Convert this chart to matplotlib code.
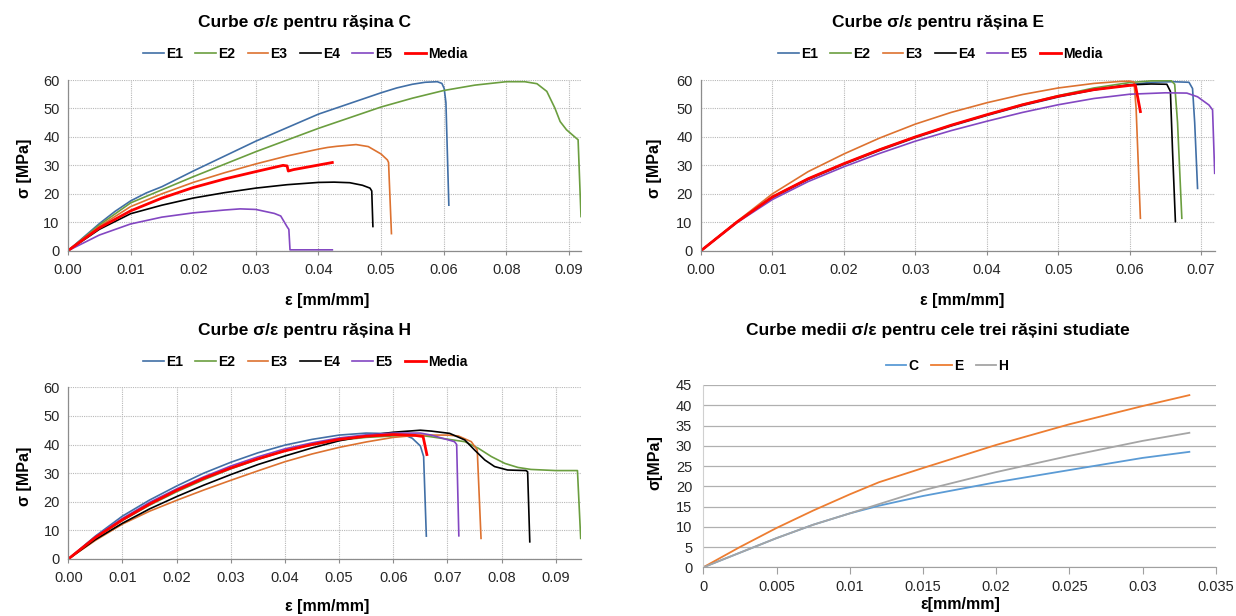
import matplotlib
matplotlib.use("Agg")
import matplotlib.pyplot as plt

plt.rcParams["font.family"] = ["Liberation Sans", "DejaVu Sans"]

W, H = 1236, 616

# ---------------- data: rasina C (strain, stress) ----------------
c_e1_x = [0, 0.0054, 0.0081, 0.0108, 0.0135, 0.0162, 0.0216, 0.0324, 0.0432, 0.054, 0.0567, 0.0594, 0.0616,
          0.0637, 0.0645, 0.0649, 0.0652, 0.0657]
c_e1_y = [0, 9.5, 13.8, 17.5, 20.3, 22.5, 28, 38.5, 48, 55.5, 57.2, 58.5, 59.2, 59.4, 58.8, 57, 52, 16]
c_e2_x = [0, 0.0054, 0.0108, 0.0216, 0.0324, 0.0432, 0.054, 0.0594, 0.0648, 0.0702, 0.0756, 0.0788, 0.0809, 0.0826,
          0.084, 0.0849, 0.086, 0.0877, 0.088, 0.0885]
c_e2_y = [0, 9, 16.8, 26, 34.8, 43, 50.5, 53.6, 56.3, 58.2, 59.4, 59.4, 58.7, 56, 50.1, 45.4, 42.5, 39.5, 39, 12]
c_e3_x = [0, 0.0054, 0.0108, 0.0162, 0.0216, 0.027, 0.0324, 0.0378, 0.0432, 0.0448, 0.0464, 0.0497, 0.0518,
          0.054, 0.0551, 0.0553, 0.0558]
c_e3_y = [0, 8.5, 15.5, 20, 24, 27.4, 30.5, 33.3, 35.7, 36.3, 36.7, 37.3, 36.6, 34, 31.9, 31, 6]
c_e4_x = [0, 0.0054, 0.0108, 0.0162, 0.0216, 0.027, 0.0324, 0.0378, 0.0432, 0.0459, 0.0486, 0.0508, 0.0521,
          0.0524, 0.0526]
c_e4_y = [0, 7.5, 13, 16, 18.5, 20.4, 22, 23.2, 24, 24.1, 23.9, 23, 22, 21, 8.5]
c_e5_x = [0, 0.0054, 0.0108, 0.0162, 0.0216, 0.027, 0.0297, 0.0324, 0.0356, 0.0367, 0.0378, 0.0381, 0.0383, 0.0456]
c_e5_y = [0, 5.5, 9.4, 11.8, 13.3, 14.3, 14.7, 14.5, 13.1, 12.2, 8.4, 7.5, 0.3, 0.3]
c_med_x = [0, 0.0054, 0.0108, 0.0162, 0.0216, 0.027, 0.0324, 0.0356, 0.0371, 0.0378, 0.038, 0.0389, 0.0456]
c_med_y = [0, 8, 14, 18.5, 22.2, 25.2, 27.8, 29.3, 30, 29.8, 28, 28.5, 31]

# ---------------- data: rasina E ----------------
e_e1_x = [0, .005, .01, .015, .02, .025, .03, .035, .04, .045, .05, .055, .06, .063, .066, .0683, .0688, .0691, .0695]
e_e1_y = [0, 10, 18.6, 25, 30.3, 35.2, 39.7, 43.8, 47.5, 51, 54, 56.5, 58.3, 59.2, 59.4, 59.2, 57, 45, 21.9]
e_e2_x = [0, .005, .01, .015, .02, .025, .03, .035, .04, .045, .05, .055, .06, .063, .0658, .0663, .0667, .0673]
e_e2_y = [0, 10, 19, 25.3, 30.6, 35.6, 40, 44.1, 47.8, 51.4, 54.5, 57.2, 59.1, 59.7, 59.8, 58.5, 45, 11.4]
e_e3_x = [0, .005, .01, .015, .02, .025, .03, .035, .04, .045, .05, .055, .0587, .06, .0606, .0609, .0615]
e_e3_y = [0, 10.2, 20, 27.8, 34, 39.6, 44.5, 48.6, 52, 54.9, 57.2, 58.8, 59.5, 59.6, 59.3, 50, 11.4]
e_e4_x = [0, .005, .01, .015, .02, .025, .03, .035, .04, .045, .05, .055, .06, .063, .0652, .0657, .066, .0664]
e_e4_y = [0, 10, 18.8, 25.2, 30.5, 35.4, 39.9, 44, 47.7, 51.2, 54.2, 56.6, 58.3, 58.6, 58.5, 56, 35, 10.2]
e_e5_x = [0, .005, .01, .015, .02, .025, .03, .035, .04, .045, .05, .055, .06, .065, .068, .0695, .0711, .0716, .0719]
e_e5_y = [0, 9.8, 18, 24.3, 29.5, 34.2, 38.5, 42.2, 45.5, 48.6, 51.3, 53.5, 55, 55.5, 55.4, 54.1, 51.2, 49.5, 27.2]
e_med_x = [0, .005, .01, .015, .02, .025, .03, .035, .04, .045, .05, .055, .06, .0608, .0615]
e_med_y = [0, 10, 18.9, 25.3, 30.6, 35.5, 40, 44.1, 47.8, 51.3, 54.3, 56.6, 58.1, 58.2, 48.9]

# ---------------- data: rasina H ----------------
h_e1_x = [0, .005, .01, .015, .02, .025, .03, .035, .04, .045, .05, .055, .06, .062, .0635, .065, .0656, .0661]
h_e1_y = [0, 8, 15, 20.6, 25.5, 30, 33.8, 37.1, 39.8, 41.8, 43.3, 44, 43.8, 43.4, 42.2, 39.5, 35.8, 8]
h_e2_x = [0, .005, .01, .015, .02, .025, .03, .035, .04, .045, .05, .055, .06, .065, .067, .0732, .0757, .0781,
          .0806, .083, .0854, .09, .094, .0946]
h_e2_y = [0, 7.3, 13.5, 18.8, 23.5, 27.7, 31.5, 34.8, 37.8, 39.9, 41.5, 42.5, 43, 43.2, 42.7, 41, 38.7, 35.8,
          33.4, 32, 31.3, 30.9, 30.9, 7.2]
h_e3_x = [0, .005, .01, .015, .02, .025, .03, .035, .04, .045, .05, .055, .06, .065, .07, .072, .0744, .0755, .0762]
h_e3_y = [0, 6.5, 12.2, 16.7, 20.5, 24.1, 27.5, 30.8, 34, 36.7, 39, 40.9, 42.5, 43.3, 43.3, 43, 41, 38.1, 7.2]
h_e4_x = [0, .005, .01, .015, .02, .025, .03, .035, .04, .045, .05, .055, .06, .065, .067, .0704, .0732, .075,
          .0769, .0787, .0811, .0845, .0848, .0852]
h_e4_y = [0, 6.8, 12.5, 17.5, 21.8, 25.8, 29.5, 33, 36, 38.8, 41.3, 43.1, 44.3, 45, 44.7, 43.9, 41.6, 38.1,
          34.6, 32.3, 31.1, 30.9, 30.5, 6]
h_e5_x = [0, .005, .01, .015, .02, .025, .03, .035, .04, .045, .05, .055, .06, .065, .067, .0713, .0717, .0721]
h_e5_y = [0, 7.8, 14.2, 19.8, 24.5, 28.7, 32.5, 35.7, 38.5, 40.6, 42.3, 43.4, 44, 44, 43.3, 41, 40, 8.1]
h_med_x = [0, .005, .01, .015, .02, .025, .03, .035, .04, .045, .05, .055, .06, .064, .0655, .0662]
h_med_y = [0, 7.5, 13.7, 19.2, 24, 28.2, 31.8, 35, 37.8, 40, 41.8, 42.9, 43.5, 43.2, 42.8, 36.5]

# ---------------- data: mean curves ----------------
avg_x = [0, 0.0025, 0.005, 0.0075, 0.01, 0.012, 0.015, 0.02, 0.025, 0.03, 0.0332]
avg_c = [0, 3.6, 7.2, 10.5, 13.3, 15.2, 17.6, 21, 24, 27, 28.5]
avg_e = [0, 5, 9.7, 14, 18, 21, 24.5, 30.2, 35.3, 39.8, 42.5]
avg_h = [0, 3.6, 7.2, 10.5, 13.3, 15.6, 19, 23.5, 27.5, 31.2, 33.2]

labels = ["E1", "E2", "E3", "E4", "E5", "Media"]
colors = ["#416fa6", "#6b9e3f", "#dd7230", "#000000", "#8347c2", "#ff0000"]
avg_labels = ["C", "E", "H"]
avg_colors = ["#5b9bd5", "#ed7d31", "#a5a5a5"]

# Excel major unit used on the C chart (labels rounded to 2 decimals)
c_unit = 0.0108


def rect(l, t, r, b):
    return [l / W, 1 - b / H, (r - l) / W, (b - t) / H]


def fx(px):
    return px / W


def fy(py):
    return 1 - py / H


fig = plt.figure(figsize=(W / 100, H / 100), dpi=100)


def sample_panel(ax, series, xticks, xmax, title, tpos, lpos, xlpos, ylpos):
    for (x, y), lab, col in zip(series, labels, colors):
        lw = 2.0 if lab == "Media" else 1.2
        ax.plot(x, y, color=col, lw=lw, label=lab, solid_joinstyle="round")
    ax.set_xlim(0, xmax)
    ax.set_ylim(0, 60)
    ax.set_yticks(range(0, 61, 10))
    ax.set_xticks(xticks)
    ax.set_xticklabels(["%.2f" % v for v in xticks])
    ax.grid(True, color="#b8b8b8", lw=0.8, linestyle=(0, (1, 1)))
    for s in ["top", "right"]:
        ax.spines[s].set_visible(False)
    for s in ["left", "bottom"]:
        ax.spines[s].set_color("#8c8c8c")
        ax.spines[s].set_linewidth(0.9)
    ax.tick_params(axis="x", length=3, color="#8c8c8c", labelsize=10.5, pad=6, labelcolor="#262626")
    ax.tick_params(axis="y", length=0, labelsize=10.5, pad=6, labelcolor="#262626")
    fig.text(fx(tpos[0]), fy(tpos[1]), title, ha="center", va="center", fontsize=12.5, fontweight="bold")
    fig.legend(handles=ax.get_lines(), loc="center", bbox_to_anchor=(fx(lpos[0]), fy(lpos[1])),
               ncol=6, frameon=False, handlelength=1.5, handletextpad=0.15, columnspacing=0.9,
               prop={"weight": "bold", "size": 10})
    fig.text(fx(xlpos[0]), fy(xlpos[1]), "ε [mm/mm]", ha="center", va="center", fontsize=11.5, fontweight="bold")
    fig.text(fx(ylpos[0]), fy(ylpos[1]), "σ [MPa]", ha="center", va="center", rotation=90,
             fontsize=11.5, fontweight="bold")


ax1 = fig.add_axes(rect(68, 80, 581, 250.7))
sample_panel(ax1,
             [(c_e1_x, c_e1_y), (c_e2_x, c_e2_y), (c_e3_x, c_e3_y), (c_e4_x, c_e4_y), (c_e5_x, c_e5_y),
              (c_med_x, c_med_y)],
             [c_unit * k for k in range(9)], 0.0885,
             "Curbe σ/ε pentru rășina C", (304, 23), (305, 54), (327, 300), (25, 168))

ax2 = fig.add_axes(rect(701, 80, 1214.7, 250.7))
sample_panel(ax2,
             [(e_e1_x, e_e1_y), (e_e2_x, e_e2_y), (e_e3_x, e_e3_y), (e_e4_x, e_e4_y), (e_e5_x, e_e5_y),
              (e_med_x, e_med_y)],
             [0.01 * k for k in range(8)], 0.0719,
             "Curbe σ/ε pentru rășina E", (938, 23), (940, 54), (962, 300), (655, 168))

ax3 = fig.add_axes(rect(68.3, 387.3, 580.7, 559))
sample_panel(ax3,
             [(h_e1_x, h_e1_y), (h_e2_x, h_e2_y), (h_e3_x, h_e3_y), (h_e4_x, h_e4_y), (h_e5_x, h_e5_y),
              (h_med_x, h_med_y)],
             [0.01 * k for k in range(10)], 0.0946,
             "Curbe σ/ε pentru rășina H", (304, 331), (305, 362), (327, 607), (25, 476))

# ---------------- mean curves panel ----------------
ax4 = fig.add_axes(rect(703.3, 385, 1215.7, 567.3))
for y, lab, col in zip([avg_c, avg_e, avg_h], avg_labels, avg_colors):
    ax4.plot(avg_x, y, color=col, lw=1.3, label=lab)
ax4.set_xlim(0, 0.035)
ax4.set_ylim(0, 45)
ax4.set_yticks(range(0, 46, 5))
xt = [0, 0.005, 0.01, 0.015, 0.02, 0.025, 0.03, 0.035]
ax4.set_xticks(xt)
ax4.set_xticklabels(["0", "0.005", "0.01", "0.015", "0.02", "0.025", "0.03", "0.035"])
ax4.grid(True, axis="y", color="#b0b0b0", lw=0.9)
for s in ["top", "right"]:
    ax4.spines[s].set_visible(False)
ax4.spines["left"].set_color("#d0d0d0")
ax4.spines["bottom"].set_color("#a0a0a0")
ax4.tick_params(axis="x", length=5, color="#a0a0a0", labelsize=10.5, pad=4, labelcolor="#262626")
ax4.tick_params(axis="y", length=0, labelsize=10.5, pad=8, labelcolor="#262626")
fig.text(fx(938), fy(330), "Curbe medii σ/ε pentru cele trei rășini studiate", ha="center", va="center",
         fontsize=12.5, fontweight="bold")
fig.legend(handles=ax4.get_lines(), loc="center", bbox_to_anchor=(fx(947), fy(366)), ncol=3, frameon=False,
           handlelength=1.5, handletextpad=0.15, columnspacing=0.9, prop={"weight": "bold", "size": 10})
fig.text(fx(960), fy(605), "ε[mm/mm]", ha="center", va="center", fontsize=11.5, fontweight="bold")
fig.text(fx(655), fy(463), "σ[MPa]", ha="center", va="center", rotation=90, fontsize=11.5, fontweight="bold")

fig.savefig("out.png", dpi=100)
